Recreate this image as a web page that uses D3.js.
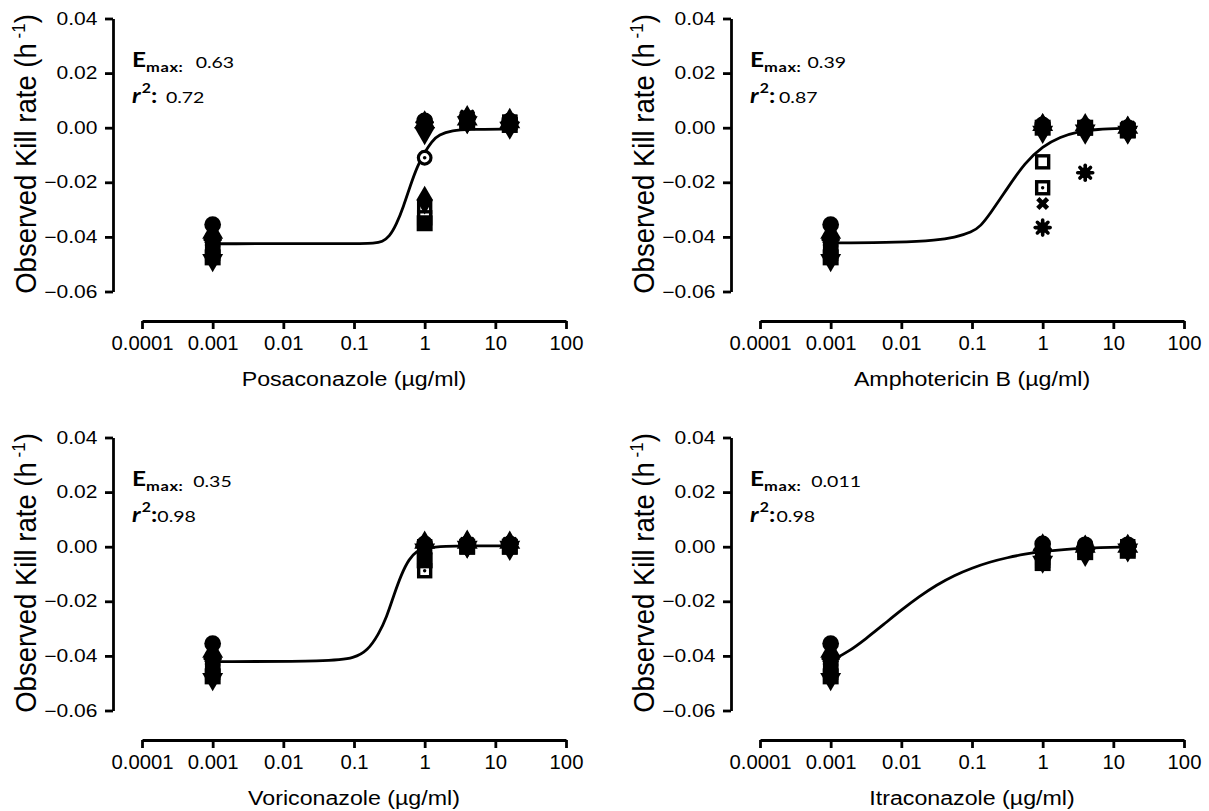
<!DOCTYPE html>
<html>
<head>
<meta charset="utf-8">
<script src="https://cdn.jsdelivr.net/npm/d3@7"></script>
<style>
  body { margin: 0; background: #fff; }
  svg { display: block; }
  .axis path, .axis line { stroke: #000; stroke-width: 2.8; }
  .axis text { fill: #000; font-family: "Liberation Sans", Arial, sans-serif; }
  .annot { font-family: Lato, "Open Sans", sans-serif; fill: #000; }
  .axis-title { font-family: "Liberation Sans", Arial, sans-serif; fill: #000; }
</style>
</head>
<body>
<div id="chart"></div>
<script>
// ---- data ----
const concentrations = [0.001, 1, 4, 16];
const xTickValues = [0.0001, 0.001, 0.01, 0.1, 1, 10, 100];
const xTickLabels = ['0.0001', '0.001', '0.01', '0.1', '1', '10', '100'];
const yTickValues = [0.04, 0.02, 0, -0.02, -0.04, -0.06];

const drugs = ['Posaconazole', 'Amphotericin B', 'Voriconazole', 'Itraconazole'];
const emaxValues = ['0.63', '0.39', '0.35', '0.011'];
const r2Values = ['0.72', '0.87', '0.98', '0.98'];

// one symbol per isolate (open ones are drawn first, filled ones on top)
const isolateSymbols = ['openSquare', 'openSquareDot', 'openCircleDot', 'cross', 'asterisk',
                        'square', 'circle', 'triangle', 'triangleDown', 'diamond'];

// kill rate per isolate at 0.001, 1, 4 and 16 µg/ml
const posaconazoleRates = [
  [-0.044, -0.029, 0.003, 0.002],
  [-0.046, -0.033, 0.002, 0.002],
  [-0.043, -0.011, 0.003, 0.001],
  [-0.045, 0.001, 0.003, 0.002],
  [-0.041, 0.002, 0.004, 0.002],
  [-0.0475, -0.035, 0.002, 0.001],
  [-0.0355, 0.0025, 0.0035, 0.0025],
  [-0.0385, 0.002, 0.003, 0.002],
  [-0.0485, -0.002, 0.002, 0.000],
  [-0.042, -0.0265, 0.003, 0.002]
];
const amphotericinRates = [
  [-0.044, -0.0125, 0.000, -0.001],
  [-0.046, -0.022, 0.000, -0.001],
  [-0.043, 0.000, 0.000, 0.000],
  [-0.045, -0.0278, 0.000, -0.001],
  [-0.041, -0.0366, -0.0165, 0.000],
  [-0.0475, 0.000, 0.000, -0.001],
  [-0.0355, 0.001, 0.0005, 0.000],
  [-0.0385, 0.001, 0.001, 0.000],
  [-0.0485, -0.0015, -0.001, -0.0015],
  [-0.042, 0.000, -0.001, -0.001]
];
const voriconazoleRates = [
  [-0.044, 0.000, 0.000, 0.000],
  [-0.046, -0.0088, 0.000, 0.000],
  [-0.043, 0.001, 0.001, 0.001],
  [-0.045, -0.001, 0.000, 0.000],
  [-0.041, 0.000, 0.001, 0.001],
  [-0.0475, -0.005, 0.000, 0.000],
  [-0.0355, 0.001, 0.001, 0.001],
  [-0.0385, 0.0015, 0.0015, 0.0015],
  [-0.0485, -0.001, 0.000, 0.000],
  [-0.042, 0.000, 0.001, 0.000]
];
const itraconazoleRates = [
  [-0.044, -0.004, -0.001, 0.000],
  [-0.046, -0.005, -0.002, -0.001],
  [-0.043, -0.002, 0.000, 0.000],
  [-0.045, -0.003, -0.001, 0.000],
  [-0.041, -0.001, 0.000, 0.000],
  [-0.0475, -0.006, -0.002, -0.0015],
  [-0.0355, 0.001, 0.0007, 0.0007],
  [-0.0385, 0.0005, 0.000, 0.000],
  [-0.0485, -0.0055, -0.003, -0.001],
  [-0.042, -0.002, -0.001, -0.0005]
];

// fitted Emax curves [concentration, rate]
const posaconazoleCurve = [
  [0.001, -0.0425], [0.1, -0.0425], [0.2, -0.0423], [0.25, -0.0418], [0.316, -0.0400],
  [0.398, -0.0355], [0.5, -0.0290], [0.63, -0.0210], [0.79, -0.0140], [1, -0.0090],
  [1.26, -0.0050], [1.58, -0.0025], [2.5, -0.0010], [4, -0.0006], [16, -0.0005]
];
const amphotericinCurve = [
  [0.001, -0.0422], [0.01, -0.0420], [0.0316, -0.0412], [0.0562, -0.0402], [0.1, -0.0383],
  [0.133, -0.0360], [0.178, -0.0318], [0.316, -0.0222], [0.562, -0.0128], [1, -0.0068],
  [1.78, -0.0033], [3.16, -0.0014], [5.62, -0.0006], [16, -0.0002]
];
const voriconazoleCurve = [
  [0.001, -0.0421], [0.05, -0.0420], [0.1, -0.0408], [0.155, -0.0382], [0.224, -0.0320],
  [0.288, -0.0260], [0.37, -0.0174], [0.47, -0.0100], [0.6, -0.0045], [0.78, -0.0015],
  [1, -0.0005], [2, 0.0002], [4, 0.0003], [16, 0.0003]
];
const itraconazoleCurve = [
  [0.001, -0.0419], [0.00178, -0.0385], [0.00316, -0.0337], [0.00562, -0.0285], [0.01, -0.0232],
  [0.0178, -0.0183], [0.0316, -0.0140], [0.0562, -0.0105], [0.1, -0.0078], [0.178, -0.0056],
  [0.316, -0.0040], [0.562, -0.0027], [1, -0.0017], [2, -0.0010], [4, -0.0005], [16, -0.0001]
];

const rateTables = [posaconazoleRates, amphotericinRates, voriconazoleRates, itraconazoleRates];
const curveTables = [posaconazoleCurve, amphotericinCurve, voriconazoleCurve, itraconazoleCurve];

// ---- layout ----
const width = 1209, height = 811;
const panelOffsets = [[0, 0], [618, 0], [0, 419], [618, 419]];
const annotGaps = [{emax: 10, r2: 7}, {emax: 5, r2: 3}, {emax: 8, r2: 0}, {emax: 8, r2: 1}];

const svg = d3.select('#chart').append('svg')
    .attr('width', width)
    .attr('height', height);

const xScale = d3.scaleLog().domain([0.0001, 100]).range([142, 566]);
const yScale = d3.scaleLinear().domain([0.04, -0.06]).range([18.5, 291.5]);

function drawMarker(g, type, cx, cy) {
  const m = g.append('g').attr('transform', `translate(${cx},${cy})`);
  if (type === 'square') {
    m.append('path').attr('d', d3.symbol(d3.symbolSquare, 256)()).attr('fill', '#000');
  } else if (type === 'circle') {
    m.append('path').attr('d', d3.symbol(d3.symbolCircle, 220)()).attr('fill', '#000');
  } else if (type === 'triangle') {
    m.append('path').attr('d', d3.symbol(d3.symbolTriangle, 190)()).attr('fill', '#000');
  } else if (type === 'triangleDown') {
    m.append('path').attr('d', d3.symbol(d3.symbolTriangle, 190)())
        .attr('transform', 'rotate(180)').attr('fill', '#000');
  } else if (type === 'diamond') {
    m.append('path').attr('d', d3.symbol(d3.symbolDiamond, 240)()).attr('fill', '#000');
  } else if (type === 'cross') {
    m.append('path').attr('d', d3.symbol(d3.symbolCross, 105)())
        .attr('transform', 'rotate(45)').attr('fill', '#000');
  } else if (type === 'asterisk') {
    m.append('circle').attr('r', 5.5).attr('fill', '#000');
    [0, 45, 90, 135].forEach(a => {
      m.append('line').attr('x1', -7.5).attr('x2', 7.5)
          .attr('transform', `rotate(${a})`)
          .attr('stroke', '#000').attr('stroke-width', 3.6).attr('stroke-linecap', 'round');
    });
  } else if (type === 'openSquare' || type === 'openSquareDot') {
    m.append('rect').attr('x', -6).attr('y', -6).attr('width', 12).attr('height', 12)
        .attr('fill', '#fff').attr('stroke', '#000').attr('stroke-width', 3.4);
    if (type === 'openSquareDot') m.append('circle').attr('r', 1.7).attr('fill', '#000');
  } else if (type === 'openCircleDot') {
    m.append('circle').attr('r', 6.3).attr('fill', '#fff').attr('stroke', '#000').attr('stroke-width', 3.2);
    m.append('circle').attr('r', 1.8).attr('fill', '#000');
  }
}

drugs.forEach((drug, i) => {
  const [ox, oy] = panelOffsets[i];
  const panel = svg.append('g').attr('transform', `translate(${ox},${oy})`);

  // y axis
  const yAxis = panel.append('g')
      .attr('class', 'axis')
      .attr('transform', 'translate(113,0)')
      .call(d3.axisLeft(yScale).tickValues(yTickValues).tickFormat(d3.format('.2f'))
          .tickSize(8).tickSizeOuter(0).tickPadding(5));
  yAxis.selectAll('text')
      .style('font-size', '17.5px')
      .attr('transform', 'scale(1.2,1)');

  // x axis
  const xAxis = panel.append('g')
      .attr('class', 'axis')
      .attr('transform', 'translate(0,321)')
      .call(d3.axisBottom(xScale).tickValues(xTickValues)
          .tickFormat((d, j) => xTickLabels[j]).tickSize(8).tickSizeOuter(0).tickPadding(7));
  xAxis.selectAll('text')
      .style('font-size', '19.5px')
      .attr('transform', 'scale(1.04,1)');

  // axis titles
  panel.append('text')
      .attr('class', 'axis-title')
      .attr('transform', 'translate(354,386) scale(1.16,1)')
      .attr('text-anchor', 'middle')
      .style('font-size', '20px')
      .text(`${drug} (µg/ml)`);

  const yTitle = panel.append('text')
      .attr('class', 'axis-title')
      .attr('transform', 'translate(36,154) scale(1.06,1) rotate(-90)')
      .attr('text-anchor', 'middle')
      .style('font-size', '27.5px');
  yTitle.append('tspan').text('Observed Kill rate (h');
  yTitle.append('tspan').attr('dy', -10).style('font-size', '17px').text(' -1');
  yTitle.append('tspan').attr('dy', 10).text(')');

  // fitted curve
  const line = d3.line()
      .x(d => xScale(d[0]))
      .y(d => yScale(d[1]))
      .curve(d3.curveBasis);
  panel.append('path')
      .datum(curveTables[i])
      .attr('d', line)
      .attr('fill', 'none')
      .attr('stroke', '#000')
      .attr('stroke-width', 2.8);

  // isolate markers
  const markers = panel.append('g');
  rateTables[i].forEach((rates, k) => {
    rates.forEach((v, c) => {
      drawMarker(markers, isolateSymbols[k], xScale(concentrations[c]), yScale(v));
    });
  });

  // Emax / r2 annotation
  const gap = annotGaps[i];
  const t1 = panel.append('text')
      .attr('class', 'annot')
      .attr('transform', 'translate(132,67) scale(1.22,1)');
  t1.append('tspan').style('font-size', '20px').style('font-weight', 700).text('E');
  t1.append('tspan').attr('dy', 5).style('font-size', '13.5px').style('font-weight', 700)
      .style('letter-spacing', '0.5px').text('max:');
  t1.append('tspan').attr('dy', -4).attr('dx', gap.emax).style('font-size', '16px').text(emaxValues[i]);

  const t2 = panel.append('text')
      .attr('class', 'annot')
      .attr('transform', 'translate(132,103) scale(1.22,1)');
  t2.append('tspan').style('font-size', '20px').style('font-weight', 700).style('font-style', 'italic').text('r');
  t2.append('tspan').attr('dy', -10).attr('dx', 1).style('font-size', '13px').style('font-weight', 700).text('2');
  t2.append('tspan').attr('dy', 10).style('font-size', '20px').style('font-weight', 700).text(':');
  t2.append('tspan').attr('dx', gap.r2).style('font-size', '16px').text(r2Values[i]);
});
</script>
</body>
</html>
